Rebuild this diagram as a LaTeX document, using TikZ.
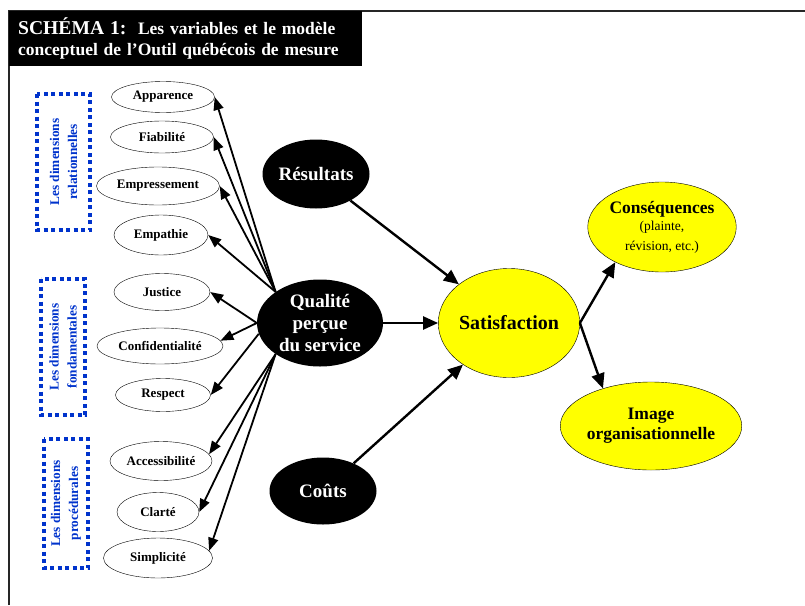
\documentclass[tikz,border=0pt]{standalone}
\usepackage{fontspec}
\setmainfont{Liberation Serif}
\usetikzlibrary{shapes.geometric,arrows.meta}
\definecolor{dimblue}{RGB}{0,51,204}
\definecolor{satyellow}{RGB}{255,255,0}
\begin{document}
\begin{tikzpicture}[x=1pt,y=-1pt]
    \tikzstyle{dim}=[ellipse, draw=black, thin, fill=white, inner sep=0pt, font=\bfseries\fontsize{13}{15}\selectfont]
    \tikzstyle{big}=[ellipse, fill=black, text=white, inner sep=0pt, align=center, font=\bfseries\fontsize{19}{22}\selectfont]
    \tikzstyle{outcome}=[ellipse, draw=black, thin, fill=satyellow, inner sep=0pt, align=center, font=\bfseries\fontsize{17.5}{20}\selectfont]
    \tikzstyle{dotbox}=[draw=dimblue, line width=4pt, dash pattern=on 4pt off 3.5pt, rotate=90, align=center, text=dimblue, inner sep=0pt, font=\bfseries\fontsize{13.3}{18}\selectfont]
    \tikzstyle{arr}=[line width=1.8pt, -{Triangle[length=13pt,width=10pt]}]
    \tikzstyle{mainarr}=[line width=2.4pt, -{Triangle[length=15pt,width=13pt]}]

    \useasboundingbox (0,0) rectangle (805,605);
    \draw[line width=2pt, black!85] (9,605) -- (9,11) -- (805,11);

    \node (title) [fill=black, text=white, anchor=north west, minimum width=353pt, minimum height=55pt, text width=335pt, inner xsep=9pt, inner ysep=0pt, align=left, font=\bfseries\fontsize{17.5}{21}\selectfont] at (9,11)
        {{\fontsize{19.6}{21}\selectfont SCHÉMA 1:}\ \ Les variables et le modèle\\conceptuel de l’Outil québécois de mesure};

    \node[dotbox, minimum width=136pt, minimum height=53pt] (relbox) at (63.5,162) {Les dimensions\\relationnelles};
    \node[dotbox, minimum width=136pt, minimum height=44pt] (fondbox) at (63,347) {Les dimensions\\fondamentales};
    \node[dotbox, minimum width=129pt, minimum height=44pt] (procbox) at (66,503.5) {Les dimensions\\procédurales};

    \node[dim, minimum width=103pt, minimum height=31pt] (app) at (163,97) {Apparence};
    \node[dim, minimum width=103pt, minimum height=32pt] (fiab) at (162,137) {Fiabilité};
    \node[dim, minimum width=123pt, minimum height=38pt] (empr) at (158,186) {Empressement};
    \node[dim, minimum width=94pt, minimum height=40pt] (empa) at (161,235) {Empathie};
    \node[dim, minimum width=96pt, minimum height=37pt] (just) at (162,292) {Justice};
    \node[dim, minimum width=126pt, minimum height=36pt] (conf) at (160,346) {Confidentialité};
    \node[dim, minimum width=95pt, minimum height=33pt] (resp) at (163,395) {Respect};
    \node[dim, minimum width=102pt, minimum height=39pt] (acc) at (161,461) {Accessibilité};
    \node[dim, minimum width=82pt, minimum height=39pt] (clar) at (158,512) {Clarté};
    \node[dim, minimum width=109pt, minimum height=40pt] (simp) at (158,558) {Simplicité};

    \node[big, minimum width=107pt, minimum height=69pt] (res) at (316,174) {Résultats};
    \node[big, minimum width=126pt, minimum height=87pt] (qual) at (320,323) {Qualité\\perçue\\du service};
    \node[big, minimum width=107pt, minimum height=67pt] (couts) at (323,491) {Coûts};

    \node[outcome, minimum width=132pt, minimum height=109pt, font=\bfseries\fontsize{20}{22}\selectfont] (sat) at (509,323) {Satisfaction};
    \node[outcome, minimum width=133pt, minimum height=90pt] (cons) at (662,227) {Conséquences\\[-3pt]{\mdseries\fontsize{13.5}{17}\selectfont (plainte,}\\{\mdseries\fontsize{13.5}{17}\selectfont révision, etc.)}};
    \node[outcome, minimum width=153pt, minimum height=88pt] (img) at (651,426) {Image\\organisationnelle};

    \draw[arr] (qual.145) -- (app.east);
    \draw[arr] (qual.145) -- (fiab.east);
    \draw[arr] (qual.145) -- (empr.east);
    \draw[arr] (qual.145) -- (empa.east);
    \draw[arr] (qual.west) -- (just.east);
    \draw[arr] (qual.west) -- (conf.5);
    \draw[arr] (qual.190) -- (resp.east);
    \draw[arr] (qual.215) -- (acc.8);
    \draw[arr] (qual.215) -- (clar.east);
    \draw[arr] (qual.215) -- (simp.8);

    \draw[mainarr] (res) -- (sat);
    \draw[mainarr] (qual) -- (sat);
    \draw[mainarr] (couts) -- (sat);
    \draw[mainarr] (sat.east) -- (cons.217);
    \draw[mainarr] (sat.east) -- (img.142);
\end{tikzpicture}
\end{document}
